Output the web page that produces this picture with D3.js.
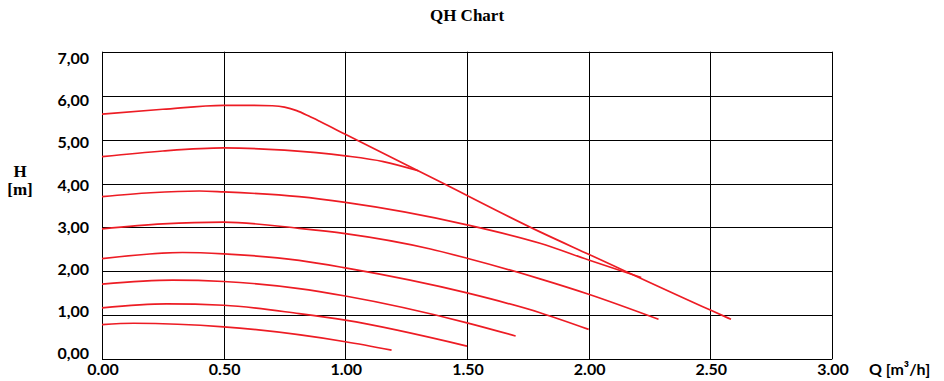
<!DOCTYPE html>
<html>
<head>
<meta charset="utf-8">
<script src="https://cdn.jsdelivr.net/npm/d3@7"></script>
<style>
  body { margin: 0; background: #fff; }
  .tick-label { font-family: Lato, "Liberation Sans", Arial, sans-serif; font-weight: bold; font-size: 16px; fill: #000; }
  .serif { font-family: "Liberation Serif", "Times New Roman", serif; font-weight: bold; fill: #000; }
</style>
</head>
<body>
<div id="chart"></div>
<script>
// Pump curves, [Q in m3/h, H in m]
const curveMax = [[0, 5.58], [0.25, 5.69], [0.5, 5.78], [0.62, 5.78], [0.70, 5.77], [0.75, 5.74], [0.80, 5.66],
    [0.85, 5.535], [0.90, 5.40], [1.0, 5.12], [1.375, 4.08], [1.8, 2.90], [2.0, 2.39], [2.5, 1.12], [2.585, 0.91]];
const curve2 = [[0, 4.61], [0.25, 4.74], [0.5, 4.81], [0.75, 4.76], [1.0, 4.63], [1.156, 4.50], [1.30, 4.29]];
const curve3 = [[0, 3.70], [0.2, 3.79], [0.4, 3.83], [0.5, 3.81], [0.81, 3.70], [1.0, 3.57], [1.5, 3.06],
    [1.8, 2.64], [2.0, 2.26], [2.216, 1.86]];
const curve4 = [[0, 2.97], [0.25, 3.08], [0.5, 3.12], [0.81, 2.98], [1.0, 2.86], [1.35, 2.51], [1.5, 2.30],
    [1.8, 1.83], [2.0, 1.48], [2.287, 0.91]];
const curve5 = [[0, 2.29], [0.33, 2.43], [0.5, 2.40], [0.81, 2.25], [1.0, 2.08], [1.5, 1.51], [1.8, 1.06], [2.0, 0.68]];
const curve6 = [[0, 1.71], [0.29, 1.80], [0.5, 1.77], [0.81, 1.61], [1.0, 1.44], [1.5, 0.83], [1.70, 0.53]];
const curve7 = [[0, 1.17], [0.265, 1.26], [0.5, 1.23], [0.81, 1.04], [1.0, 0.89], [1.5, 0.30]];
const curve8 = [[0, 0.79], [0.13, 0.82], [0.5, 0.74], [1.0, 0.40], [1.19, 0.21]];

const xTicks = [0, 0.5, 1.0, 1.5, 2.0, 2.5, 3.0];
const yTicks = [0, 1, 2, 3, 4, 5, 6, 7];

const width = 944, height = 381;
const margin = { left: 102, right: 112, top: 51.7, bottom: 21.7 };

const svg = d3.select('#chart').append('svg')
    .attr('width', width)
    .attr('height', height);

const x = d3.scaleLinear().domain([0, 3]).range([margin.left, width - margin.right]);
const y = d3.scaleLinear().domain([0, 7]).range([height - margin.bottom, margin.top]);
// tick labels sit on a slightly squeezed scale, like the original
const yLabel = d3.scaleLinear().domain([0, 7]).range([353.5, 58.5]);

const commaFmt = d => d3.format('.2f')(d).replace('.', ',');

// grid (also forms the frame)
svg.append('g').selectAll('line.h')
    .data(yTicks)
    .join('line')
    .attr('x1', x(0)).attr('x2', x(3))
    .attr('y1', d => Math.round(y(d)) + 0.5).attr('y2', d => Math.round(y(d)) + 0.5)
    .attr('stroke', '#000').attr('stroke-width', 1);

svg.append('g').selectAll('line.v')
    .data(xTicks)
    .join('line')
    .attr('x1', d => Math.round(x(d)) + 0.5).attr('x2', d => Math.round(x(d)) + 0.5)
    .attr('y1', y(7)).attr('y2', y(0))
    .attr('stroke', '#000').attr('stroke-width', 1);

// curves
const line = d3.line()
    .x(d => x(d[0]))
    .y(d => y(d[1]))
    .curve(d3.curveMonotoneX);

svg.append('g').selectAll('path')
    .data([curve8, curve7, curve6, curve5, curve4, curve3, curve2, curveMax])
    .join('path')
    .attr('d', line)
    .attr('fill', 'none')
    .attr('stroke', '#ed1c24')
    .attr('stroke-width', 1.7);

// tick labels
svg.append('g').selectAll('text')
    .data(yTicks)
    .join('text')
    .attr('class', 'tick-label')
    .attr('x', 89)
    .attr('y', d => yLabel(d))
    .attr('dy', '0.35em')
    .attr('text-anchor', 'end')
    .text(commaFmt);

svg.append('g').selectAll('text')
    .data(xTicks)
    .join('text')
    .attr('class', 'tick-label')
    .attr('x', d => x(d) + 1)
    .attr('y', 375)
    .attr('text-anchor', 'middle')
    .text(d => d3.format('.2f')(d));

// axis titles
svg.append('text')
    .attr('class', 'tick-label')
    .attr('x', 869)
    .attr('y', 375)
    .text('Q [m³/h]');

svg.append('text')
    .attr('class', 'serif')
    .attr('x', 20).attr('y', 177)
    .attr('text-anchor', 'middle')
    .style('font-size', '17px')
    .text('H');

svg.append('text')
    .attr('class', 'serif')
    .attr('x', 20).attr('y', 195)
    .attr('text-anchor', 'middle')
    .style('font-size', '17px')
    .text('[m]');

// title
svg.append('text')
    .attr('class', 'serif')
    .attr('x', (x(0) + x(3)) / 2)
    .attr('y', 21)
    .attr('text-anchor', 'middle')
    .style('font-size', '17px')
    .text('QH Chart');
</script>
</body>
</html>
